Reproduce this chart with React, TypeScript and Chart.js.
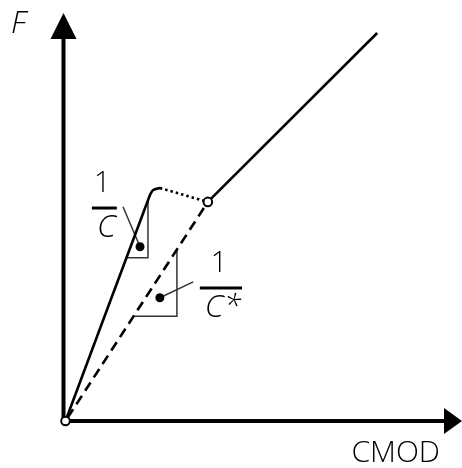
import React, { useEffect, useRef } from "react";
import { Chart, registerables } from "chart.js";

Chart.register(...registerables);

// Loading branch up to the peak (rounded corner at the top)
const CMOD_LOAD = [0, 2.13, 2.17, 2.21, 2.38];
const F_LOAD = [0, 5.54, 5.61, 5.66, 5.71];
// Softening after the peak (dotted)
const CMOD_SOFT = [2.38, 3.59];
const F_SOFT = [5.71, 5.37];
// Reloading branch
const CMOD_RELOAD = [3.59, 7.86];
const F_RELOAD = [5.37, 9.51];
// Unloading / secant line (dashed)
const CMOD_UNLOAD = [0, 3.59];
const F_UNLOAD = [0, 5.37];
// Slope triangles
const CMOD_TRI_C = [1.54, 2.08, 2.08];
const F_TRI_C = [4.0, 4.0, 5.41];
const CMOD_TRI_CS = [1.73, 2.81, 2.81];
const F_TRI_CS = [2.57, 2.57, 4.19];
// Marker dots inside the triangles
const CMOD_DOTS = [1.88, 2.38];
const F_DOTS = [4.27, 3.02];
// Leader lines from dots to labels
const CMOD_LEAD_C = [1.45, 1.88];
const F_LEAD_C = [5.25, 4.27];
const CMOD_LEAD_CS = [2.38, 3.22];
const F_LEAD_CS = [3.02, 3.41];
// Open circles (origin and unloading point)
const CMOD_OPEN = [0, 3.59];
const F_OPEN = [0, 5.37];
// Fraction labels
const LABEL_X = [0.98, 3.92];
const LABEL_Y = [5.22, 3.26];
const LABEL_DEN = ["C", "C*"];

const pts = (xs: number[], ys: number[]) => xs.map((x, i) => ({ x, y: ys[i] }));

const FONT = '"Open Sans", "DejaVu Sans", sans-serif';

const decorPlugin = {
  id: "decor",
  beforeDatasetsDraw(chart: any) {
    const { ctx, chartArea } = chart;
    const { left, bottom, top, right } = chartArea;
    ctx.save();
    ctx.fillStyle = "#000";
    ctx.strokeStyle = "#000";
    ctx.lineWidth = 4;
    ctx.lineCap = "butt";
    // y axis
    const ax = left - 2;
    ctx.beginPath();
    ctx.moveTo(ax, bottom + 2);
    ctx.lineTo(ax, top + 26);
    ctx.stroke();
    ctx.beginPath();
    ctx.moveTo(ax, top);
    ctx.lineTo(ax - 13, top + 26);
    ctx.lineTo(ax + 13, top + 26);
    ctx.closePath();
    ctx.fill();
    // x axis
    ctx.beginPath();
    ctx.moveTo(ax - 2, bottom);
    ctx.lineTo(right - 18, bottom);
    ctx.stroke();
    ctx.beginPath();
    ctx.moveTo(right, bottom);
    ctx.lineTo(right - 18, bottom - 13);
    ctx.lineTo(right - 18, bottom + 13);
    ctx.closePath();
    ctx.fill();
    ctx.restore();
  },
  afterDatasetsDraw(chart: any) {
    const { ctx, scales } = chart;
    ctx.save();
    ctx.fillStyle = "#000";
    ctx.textBaseline = "alphabetic";
    // axis titles
    ctx.font = `italic 300 31px ${FONT}`;
    ctx.textAlign = "left";
    ctx.fillText("F", 11, 33);
    ctx.font = `300 30px ${FONT}`;
    ctx.textAlign = "right";
    ctx.fillText("CMOD", 440, 462);
    // fraction labels
    ctx.textAlign = "center";
    LABEL_X.forEach((lx, i) => {
      const px = scales.x.getPixelForValue(lx);
      const py = scales.y.getPixelForValue(LABEL_Y[i]);
      ctx.font = `italic 300 32px ${FONT}`;
      const w = ctx.measureText(LABEL_DEN[i]).width;
      ctx.fillText(LABEL_DEN[i], px + 2, py + 29);
      ctx.fillRect(px - (w + 6) / 2, py - 1.5, w + 6, 3);
      ctx.font = `300 29px ${FONT}`;
      ctx.fillText("1", px - 2, py - 16);
    });
    ctx.restore();
  },
};

export default function App() {
  const ref = useRef<HTMLCanvasElement>(null);
  useEffect(() => {
    if (!ref.current) return;
    const thin = { borderColor: "#333", borderWidth: 1.5, pointRadius: 0, showLine: true, clip: false as any, order: 3 };
    const main = { borderColor: "#000", borderWidth: 2.6, pointRadius: 0, showLine: true, clip: false as any, order: 2 };
    const chart = new Chart(ref.current, {
      type: "scatter",
      data: {
        datasets: [
          { ...main, data: pts(CMOD_LOAD, F_LOAD), borderCapStyle: "round", borderJoinStyle: "round", tension: 0.3 } as any,
          { ...main, data: pts(CMOD_SOFT, F_SOFT), borderDash: [2.5, 3] } as any,
          { ...main, data: pts(CMOD_RELOAD, F_RELOAD) } as any,
          { ...main, data: pts(CMOD_UNLOAD, F_UNLOAD), borderDash: [10, 6], borderDashOffset: -4 } as any,
          { ...thin, data: pts(CMOD_TRI_C, F_TRI_C) } as any,
          { ...thin, data: pts(CMOD_TRI_CS, F_TRI_CS) } as any,
          { ...thin, data: pts(CMOD_LEAD_C, F_LEAD_C) } as any,
          { ...thin, data: pts(CMOD_LEAD_CS, F_LEAD_CS) } as any,
          {
            data: pts(CMOD_DOTS, F_DOTS),
            showLine: false,
            pointRadius: 4.5,
            pointBackgroundColor: "#000",
            pointBorderColor: "#000",
            pointBorderWidth: 0,
            clip: false,
            order: 1,
          } as any,
          {
            data: pts(CMOD_OPEN, F_OPEN),
            showLine: false,
            pointRadius: 4.3,
            pointBackgroundColor: "#fff",
            pointBorderColor: "#000",
            pointBorderWidth: 2,
            clip: false,
            order: 0,
          } as any,
        ],
      },
      options: {
        animation: false,
        responsive: false,
        events: [],
        layout: { autoPadding: false, padding: { left: 65.5, top: 13, right: 0, bottom: 47 } },
        plugins: { legend: { display: false }, tooltip: { enabled: false } },
        scales: {
          x: { type: "linear", min: 0, max: 10, display: false },
          y: { type: "linear", min: 0, max: 10, display: false },
        },
      },
      plugins: [decorPlugin],
    });
    return () => chart.destroy();
  }, []);
  return (
    <div style={{ position: "absolute", left: 0, top: 0, width: 462, height: 468, background: "#fff" }}>
      <canvas ref={ref} width={462} height={468} />
    </div>
  );
}
